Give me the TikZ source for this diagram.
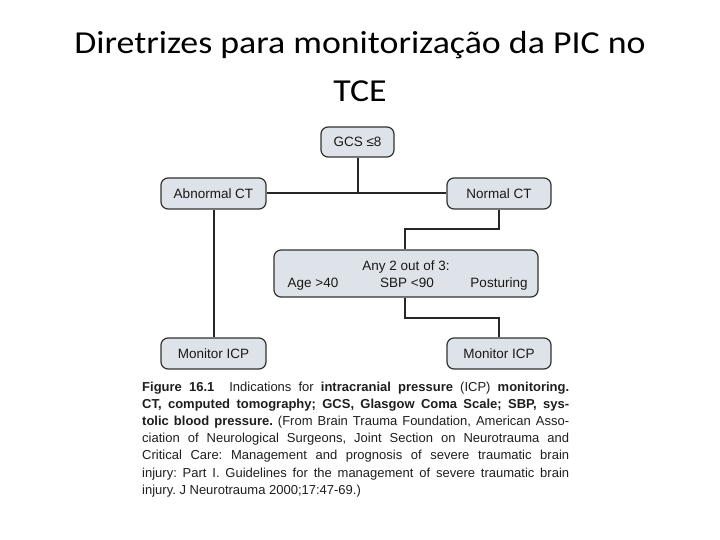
\documentclass[tikz,border=0pt]{standalone}
\usepackage{fontspec}
\setmainfont{Liberation Sans}
\newfontfamily\titlefont{Carlito}
\definecolor{boxfill}{RGB}{221,227,232}
\definecolor{boxline}{RGB}{50,50,50}
\definecolor{captxt}{RGB}{30,30,30}
\begin{document}
\begin{tikzpicture}[x=1pt,y=-1pt,
  fbox/.style={draw=boxline, line width=1.2pt, fill=boxfill, rounded corners=7pt,
    font=\fontsize{13.5}{16}\selectfont, text=black!90, inner sep=0pt},
  btxt/.style={font=\fontsize{13.5}{16}\selectfont, text=black!90, anchor=base, inner sep=0pt},
  conn/.style={draw=black!85, line width=2pt}]
\useasboundingbox (0,0) rectangle (720,540);
\node[font=\titlefont\fontsize{32}{38}\selectfont, anchor=base, xscale=1.12] (t1) at (360,54) {Diretrizes para monitorização da PIC no};
\node[font=\titlefont\fontsize{32}{38}\selectfont, anchor=base, xscale=1.12] (t2) at (360,102) {TCE};

\node[fbox, minimum width=73pt, minimum height=30pt] (gcs) at (357.5,142) {GCS ≤8};
\node[fbox, minimum width=105pt, minimum height=31pt] (abn) at (213.5,193.5) {Abnormal CT};
\node[fbox, minimum width=104pt, minimum height=31pt] (nor) at (499,193.5) {Normal CT};
\node[fbox, minimum width=264pt, minimum height=47pt] (any) at (406,273.5) {};
\node[btxt] (anyt) at (406,270) {Any 2 out of 3:};
\node[btxt] (age) at (313,287) {Age >40};
\node[btxt] (sbp) at (407,287) {SBP <90};
\node[btxt] (pos) at (499,287) {Posturing};
\node[fbox, minimum width=105pt, minimum height=31pt] (m1) at (213.5,353.5) {Monitor ICP};
\node[fbox, minimum width=104pt, minimum height=31pt] (m2) at (499,353.5) {Monitor ICP};

\coordinate (j1) at (gcs.south |- abn.east);
\draw[conn] (gcs.south) -- (j1);
\draw[conn] (abn.east) -- (nor.west);
\draw[conn] (abn.south) -- (m1.north);
\coordinate (j2) at (499,229);
\coordinate (j3) at (405,229);
\draw[conn] (nor.south) -- (j2) -- (j3) -- (j3 |- any.north);
\coordinate (j4) at (405,318);
\coordinate (j5) at (499,318);
\draw[conn] (j4 |- any.south) -- (j4) -- (j5) -- (m2.north);

\node[anchor=north west, inner sep=0pt, text=captxt, text width=427pt, align=justify,
  font=\fontsize{13}{17.2}\selectfont] (cap) at (142,381.5)
{\frenchspacing\textbf{Figure 16.1}\hspace{0.6em} Indications for \textbf{intracranial pressure} (ICP) \textbf{monitoring.}\linebreak
\textbf{CT, computed tomography; GCS, Glasgow Coma Scale; SBP, sys-}\linebreak
\textbf{tolic blood pressure.} (From Brain Trauma Foundation, American Asso-\linebreak
ciation of Neurological Surgeons, Joint Section on Neurotrauma and\linebreak
Critical Care: Management and prognosis of severe traumatic brain\linebreak
injury: Part I. Guidelines for the management of severe traumatic brain\linebreak
injury. J Neurotrauma 2000;17:47-69.)\par};
\end{tikzpicture}
\end{document}
